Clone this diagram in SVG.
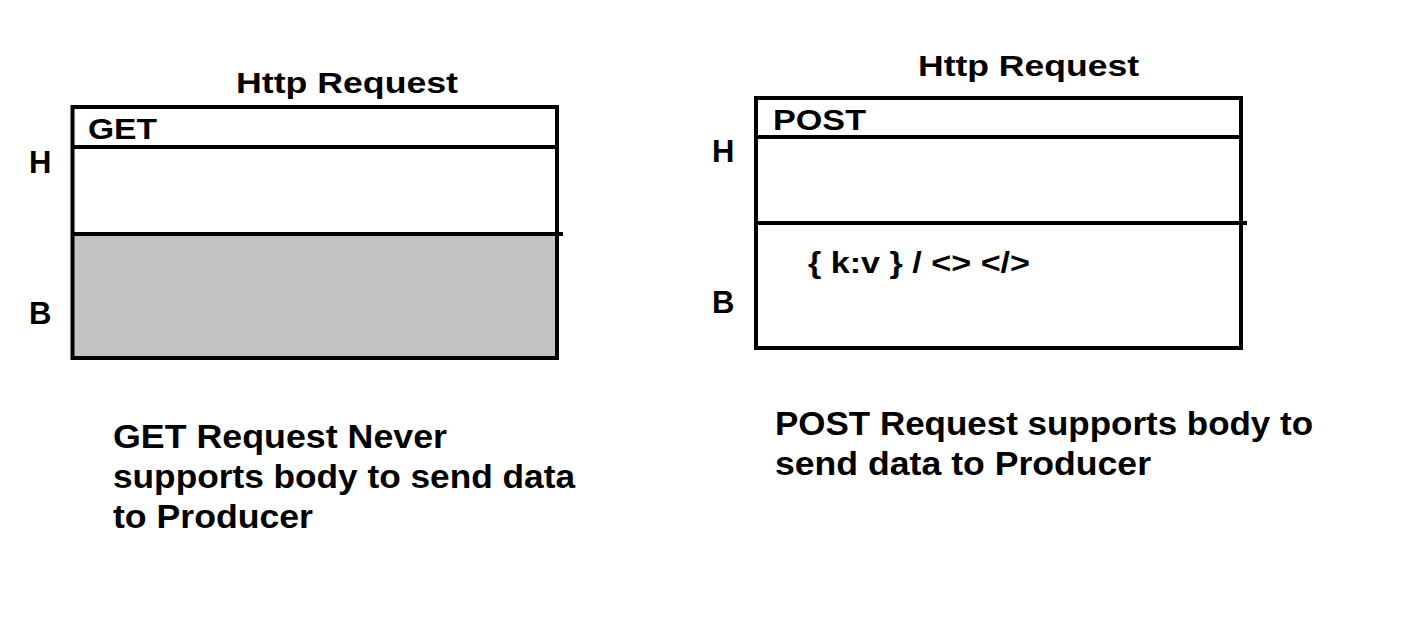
<svg xmlns="http://www.w3.org/2000/svg" width="1428" height="628" viewBox="0 0 1428 628">
<style>
.t{font-family:"Liberation Sans",Arial,sans-serif;font-weight:bold;fill:#000}
.ln{stroke:#000;stroke-width:4;fill:none}
</style>
<rect width="1428" height="628" fill="#fff"/>
<g id="get-request">
<rect x="72.5" y="234" width="484.5" height="124" fill="#c3c3c3"/>
<rect class="ln" x="72.5" y="107" width="484.5" height="251"/>
<line class="ln" x1="72.5" y1="147" x2="557" y2="147"/>
<line class="ln" x1="72.5" y1="234" x2="563" y2="234"/>
<text class="t" x="236" y="93" font-size="30" textLength="222" lengthAdjust="spacingAndGlyphs">Http Request</text>
<text class="t" x="88" y="139" font-size="30" textLength="69" lengthAdjust="spacingAndGlyphs">GET</text>
<text class="t" x="29" y="173" font-size="31">H</text>
<text class="t" x="29" y="324" font-size="31">B</text>
<text class="t" x="113" y="448" font-size="33" textLength="334" lengthAdjust="spacingAndGlyphs">GET Request Never</text>
<text class="t" x="113" y="488" font-size="33" textLength="462" lengthAdjust="spacingAndGlyphs">supports body to send data</text>
<text class="t" x="113" y="528" font-size="33" textLength="200" lengthAdjust="spacingAndGlyphs">to Producer</text>
</g>
<g id="post-request">
<rect class="ln" x="756" y="98" width="485" height="250"/>
<line class="ln" x1="756" y1="137" x2="1241" y2="137"/>
<line class="ln" x1="756" y1="223" x2="1247" y2="223"/>
<text class="t" x="918" y="76" font-size="30" textLength="221" lengthAdjust="spacingAndGlyphs">Http Request</text>
<text class="t" x="773" y="130" font-size="30" textLength="93" lengthAdjust="spacingAndGlyphs">POST</text>
<text class="t" x="712" y="162" font-size="31">H</text>
<text class="t" x="712" y="313" font-size="31">B</text>
<text class="t" x="808" y="273" font-size="30" textLength="222" lengthAdjust="spacingAndGlyphs">{ k:v } / &lt;&gt; &lt;/&gt;</text>
<text class="t" x="775" y="435" font-size="33" textLength="538" lengthAdjust="spacingAndGlyphs">POST Request supports body to</text>
<text class="t" x="775" y="475" font-size="33" textLength="376" lengthAdjust="spacingAndGlyphs">send data to Producer</text>
</g>
<g id="connectors"/>
</svg>
